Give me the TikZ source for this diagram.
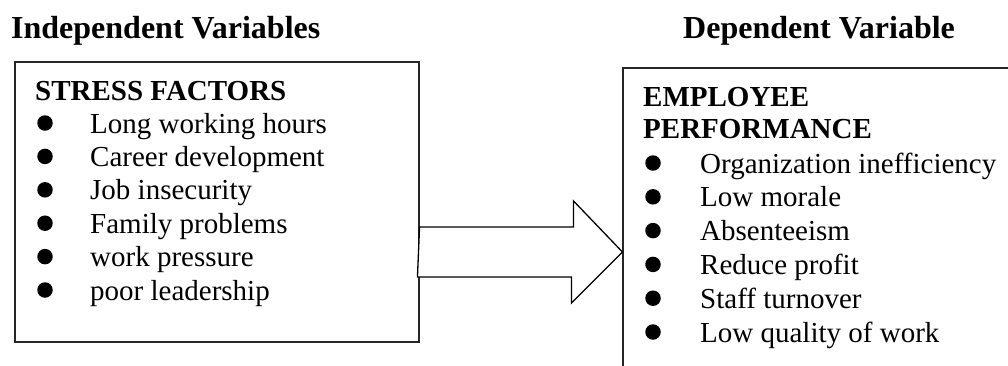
\documentclass[tikz,border=0pt]{standalone}
\usepackage{fontspec}
\setmainfont{Liberation Serif}
\usetikzlibrary{positioning}

\tikzset{
  heading/.style={font=\fontsize{32}{36}\selectfont\bfseries, anchor=base west, inner sep=0pt},
  boxtitle/.style={font=\fontsize{29}{34}\selectfont\bfseries, anchor=base west, inner sep=0pt},
  item/.style={font=\fontsize{29}{34}\selectfont, anchor=base west, inner sep=0pt},
  framebox/.style={draw=black!85, line width=1.1pt, inner sep=0pt},
  dot/.style={fill=black, circle, inner sep=0pt, minimum size=15.5pt},
}

\begin{document}
\begin{tikzpicture}[x=1pt,y=-1pt]
\useasboundingbox (0,0) rectangle (1008,365);
\clip (0,0) rectangle (1008,365);

% Headings over the two boxes
\node[heading] (indep) at (11,38) {Independent Variables};
\node[heading] (dep) at (683,38) {Dependent Variable};

% The two boxes
\node[framebox, minimum width=404pt, minimum height=280pt] (stress) at (217,202) {};
\node[framebox, minimum width=420pt, minimum height=330pt] (perf) at (833,233) {};

% Box titles
\node[boxtitle] (stitle) at (35,100) {STRESS FACTORS};
\node[boxtitle] (ptitleA) at (643,106) {EMPLOYEE};
\node[boxtitle] (ptitleB) at (643,138) {PERFORMANCE};

% Stress factors list
\foreach \txt [count=\i] in {Long working hours, Career development, Job insecurity,
    Family problems, work pressure, poor leadership} {
  \pgfmathsetmacro{\yy}{99.6+33.4*\i}
  \node[dot] (sdot\i) at (45,\yy-10) {};
  \node[item] (sitem\i) at (90,\yy) {\txt};
}

% Employee performance list
\foreach \txt [count=\i] in {Organization inefficiency, Low morale, Absenteeism,
    Reduce profit, Staff turnover, Low quality of work} {
  \pgfmathsetmacro{\yy}{139.2+33.8*\i}
  \node[dot] (pdot\i) at (653,\yy-10) {};
  \node[item] (pitem\i) at (700,\yy) {\txt};
}

% Block arrow from one box to the other
\coordinate (mid) at (0,252);
\draw[line width=1.3pt, fill=white] (stress.east |- mid) ++(0,-25) -- ++(154,0) -- ++(0,-26)
  -- (perf.west |- mid) -- ++(-51,51) -- ++(0,-26) -- ++(-154,0) -- cycle;

\end{tikzpicture}
\end{document}
